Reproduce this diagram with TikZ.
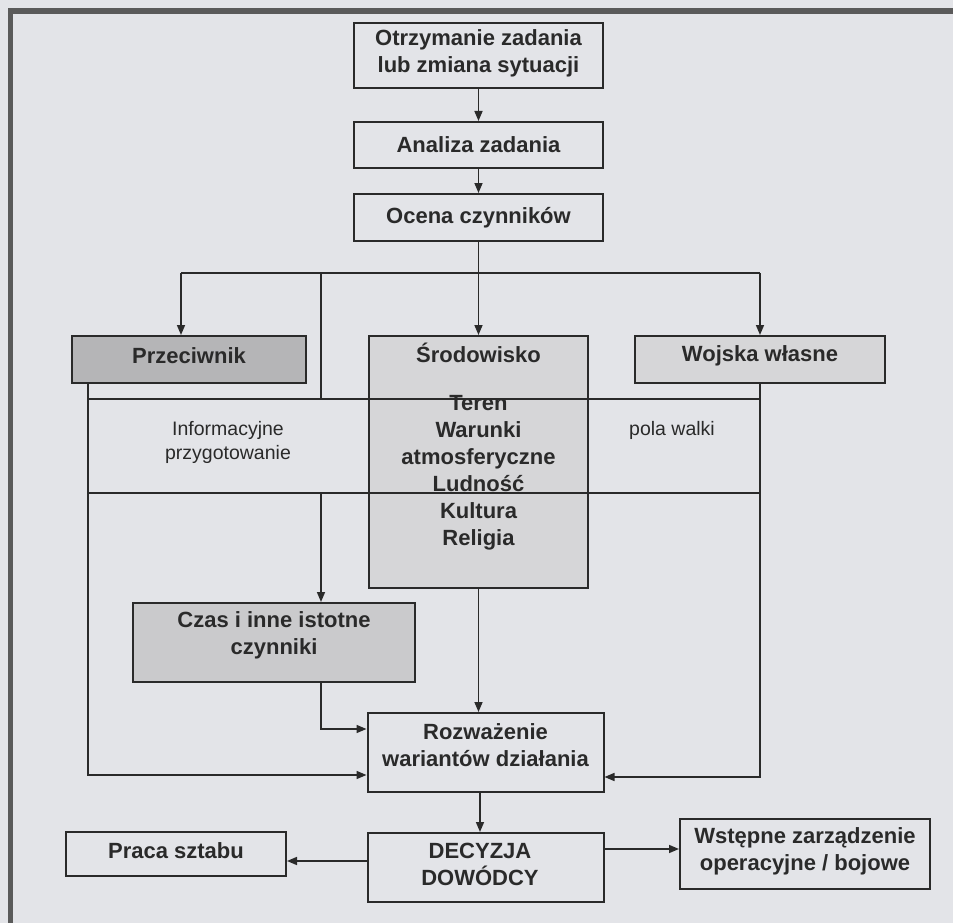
\documentclass[tikz,border=0pt]{standalone}
\usepackage{fontspec}
\setmainfont{Liberation Sans}
\usetikzlibrary{arrows.meta}
\definecolor{paper}{HTML}{E3E4E8}
\definecolor{ink}{HTML}{2A2A2A}
\definecolor{frame}{HTML}{5A5A5A}
\definecolor{darkfill}{HTML}{B5B5B7}
\definecolor{midfill}{HTML}{CACACC}
\definecolor{lightfill}{HTML}{D6D6D8}
\newcommand{\boxfont}{\fontsize{22}{27}\selectfont\bfseries}
\newcommand{\notefont}{\fontsize{19.5}{24}\selectfont}
\begin{document}
\begin{tikzpicture}[x=1pt,y=-1pt,
  box/.style={draw=ink, line width=2pt, fill=paper, inner sep=0pt,
    align=center, font=\boxfont, text=ink},
  ln/.style={draw=ink, line width=1.6pt},
  arr/.style={ln, -{Triangle[length=10pt,width=8pt]}},
  note/.style={align=center, font=\notefont, text=ink, inner sep=0pt},
  lbl/.style={align=center, font=\boxfont, text=ink, inner sep=0pt}]
\useasboundingbox (0,0) rectangle (953,923);
\fill[paper] (0,0) rectangle (953,923);
% page frame
\fill[frame] (8,8) rectangle (953,14);
\fill[frame] (8,8) rectangle (13,923);

% main column
\node[box, minimum width=249, minimum height=65] (b1) at (478.5,55.5) {};
\node[lbl] (b1t) at (478.5,53) {Otrzymanie zadania\\lub zmiana sytuacji};
\node[box, minimum width=249, minimum height=46] (ana) at (478.5,145) {Analiza zadania};
\node[box, minimum width=249, minimum height=47] (oce) at (478.5,217.5) {Ocena czynników};

% factor boxes
\node[box, fill=darkfill, minimum width=234, minimum height=47] (prz) at (189,359.5) {};
\node[lbl] (przt) at (189,356) {Przeciwnik};
\node[box, fill=lightfill, minimum width=219, minimum height=252] (srod) at (478.5,462) {};
\node[box, fill=lightfill, minimum width=250, minimum height=47] (wl) at (760,359.5) {};
\node[lbl] (wlt) at (760,356) {Wojska własne};
\node[box, fill=midfill, minimum width=282, minimum height=79] (czas) at (274,642.5) {};
\node[lbl] (czast) at (274,635) {Czas i inne istotne\\czynniki};

% decision part
\node[box, minimum width=236, minimum height=79] (roz) at (485.5,752.5) {};
\node[lbl] (rozt) at (485.5,745) {Rozważenie\\wariantów działania};
\node[box, minimum width=236, minimum height=69] (dec) at (485.5,867.5) {};
\node[lbl] (dect) at (480,864) {DECYZJA\\DOWÓDCY};
\node[box, minimum width=220, minimum height=44] (pr) at (176,854) {};
\node[lbl] (prt) at (176,851) {Praca sztabu};
\node[box, minimum width=250, minimum height=70] (wz) at (805,854) {};
\node[lbl] (wzt) at (805,851) {Wstępne zarządzenie\\operacyjne / bojowe};

% junction points
\coordinate (jC) at (478.5,273);
\coordinate (jL) at (181,273);
\coordinate (jR) at (760,273);
\coordinate (jM) at (321,273);
\coordinate (hA1) at (88,399);
\coordinate (hA2) at (760,399);
\coordinate (hB1) at (88,493);
\coordinate (hB2) at (760,493);
\coordinate (lB) at (88,775);
\coordinate (rB) at (760,777);
\coordinate (cB) at (321,729);
\coordinate (mX) at (480,800);
\coordinate (dL) at (368,861);
\coordinate (dR) at (603,849);

% connectors
\draw[arr] (b1) -- (ana);
\draw[arr] (ana) -- (oce);
\draw[ln] (oce.south) -- (jC);
\draw[ln] (jL) -- (jR);
\draw[arr] (jL) -- (jL |- prz.north);
\draw[arr] (jC) -- (srod.north);
\draw[arr] (jR) -- (wl.north);
\draw[ln] (jM) -- (jM |- hA1);
\draw[ln] (hA1) -- (hA2);
\draw[ln] (hB1) -- (hB2);
\draw[arr] (jM |- hB1) -- (jM |- czas.north);
\draw[arr] (lB |- prz.south) -- (lB) -- (lB -| roz.west);
\draw[arr] (wl.south) -- (rB) -- (rB -| roz.east);
\draw[arr] (cB |- czas.south) -- (cB) -- (cB -| roz.west);
\draw[arr] (srod.south) -- (srod.south |- roz.north);
\draw[arr] (mX |- roz.south) -- (mX |- dec.north);
\draw[arr] (dL) -- (dL -| pr.east);
\draw[arr] (dR) -- (dR -| wz.west);

% texts on the environment box and the bands
\node[lbl] (srodt) at (478.5,353) {Środowisko};
\node[lbl] (srodl) at (478.5,473)
  {Teren\\Warunki\\atmosferyczne\\Ludność\\Kultura\\Religia};
\node[note] (info) at (228,442) {Informacyjne\\przygotowanie};
\node[note] (pola) at (672,430) {pola walki};
\end{tikzpicture}
\end{document}
